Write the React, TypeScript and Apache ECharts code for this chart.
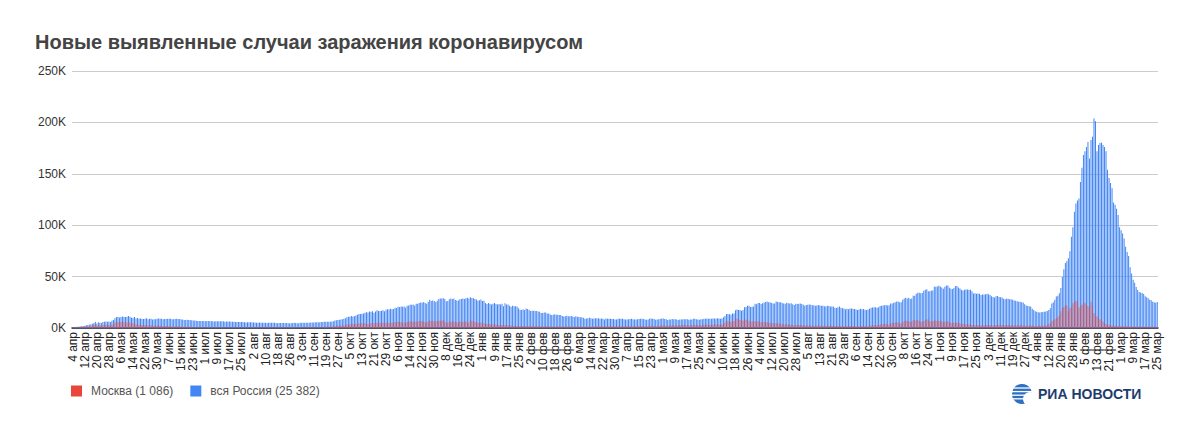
import { useEffect, useRef } from "react";
import * as echarts from "echarts";

// Daily new cases, thousands. Period: 4 Apr 2020 – 25 Mar 2022.
const ruApr2020 = [0.6, 0.7, 1.0, 1.2, 1.2, 1.5, 1.8, 1.7, 2.2, 2.6, 2.8, 3.4, 3.4, 4.1, 4.8, 6.1, 4.3, 5.6, 5.2, 4.8, 5.8, 6.0, 6.4, 6.2, 6.4, 5.8, 7.1];
const ruMay2020 = [7.9, 9.6, 10.6, 10.6, 10.1, 10.6, 11.2, 10.7, 10.8, 11.0, 11.7, 10.9, 10.0, 10.0, 10.6, 9.2, 9.7, 8.9, 9.3, 8.8, 8.8, 8.9, 9.4, 8.6, 8.9, 8.9, 8.3, 8.4, 8.6, 9.0, 9.3];
const ruJun2020 = [9.0, 8.9, 8.5, 8.8, 8.7, 8.9, 9.0, 9.0, 8.6, 8.4, 8.8, 9.0, 8.7, 8.8, 8.2, 8.2, 7.8, 7.8, 8.0, 7.9, 7.7, 7.6, 7.4, 7.2, 7.1, 6.8, 6.9, 6.8, 6.7, 6.7];
const ruJul2020 = [6.6, 6.8, 6.7, 6.6, 6.7, 6.6, 6.4, 6.6, 6.5, 6.6, 6.6, 6.6, 6.5, 6.2, 6.4, 6.4, 6.4, 6.2, 6.1, 6.1, 5.8, 5.9, 5.8, 5.8, 5.9, 5.8, 5.6, 5.4, 5.5, 5.5, 5.5];
const ruAug2020 = [5.5, 5.4, 5.4, 5.2, 5.2, 5.3, 5.2, 5.2, 5.2, 5.1, 4.9, 5.1, 5.1, 5.1, 5.1, 5.0, 4.8, 4.7, 4.8, 4.8, 4.8, 4.9, 4.9, 4.9, 4.7, 4.7, 4.7, 4.8, 5.0, 4.9, 4.7];
const ruSep2020 = [4.7, 5.0, 5.1, 5.2, 5.2, 5.2, 5.1, 5.2, 5.4, 5.4, 5.4, 5.5, 5.5, 5.5, 5.7, 5.8, 5.9, 6.1, 6.1, 6.2, 6.2, 6.2, 6.4, 6.6, 7.2, 7.5, 7.9, 8.1, 8.2, 8.5];
const ruOct2020 = [8.9, 9.4, 10.5, 10.9, 10.9, 11.6, 11.1, 11.5, 12.1, 12.8, 13.6, 13.6, 13.9, 14.2, 14.9, 15.2, 15.1, 16.0, 15.7, 16.3, 14.9, 16.0, 17.3, 16.5, 16.6, 16.7, 17.3, 16.2, 17.7, 18.3, 18.1];
const ruNov2020 = [18.7, 18.3, 18.6, 19.8, 19.4, 20.6, 20.5, 21.0, 20.6, 21.0, 19.9, 21.6, 22.0, 22.7, 22.6, 22.8, 21.8, 23.6, 23.6, 24.3, 24.8, 24.6, 25.2, 24.3, 23.7, 25.5, 27.5, 26.3, 26.7, 26.3];
const ruDec2020 = [25.3, 26.4, 28.1, 28.6, 28.8, 29.0, 28.1, 26.1, 26.2, 27.9, 28.6, 28.1, 28.6, 27.3, 26.7, 26.7, 27.9, 28.2, 28.6, 28.2, 28.9, 29.4, 28.8, 29.9, 29.3, 29.0, 28.3, 27.8, 26.5, 27.0, 27.7];
const ruJan2021 = [26.3, 26.5, 24.2, 23.4, 24.2, 23.5, 22.9, 23.7, 24.2, 23.3, 22.9, 23.3, 22.9, 23.7, 21.2, 24.1, 22.9, 22.9, 21.7, 20.6, 21.6, 21.2, 21.1, 20.9, 19.3, 17.7, 17.6, 18.2, 17.6, 19.0, 18.4];
const ruFeb2021 = [17.6, 16.6, 16.7, 16.7, 16.5, 16.6, 16.0, 15.9, 14.5, 14.5, 15.0, 15.0, 14.2, 14.2, 13.2, 12.7, 12.8, 13.4, 13.0, 13.0, 12.7, 12.6, 11.7, 11.2, 11.5, 11.8, 11.5, 11.4];
const ruMar2021 = [11.6, 11.2, 10.6, 11.4, 11.0, 10.6, 10.5, 10.4, 9.9, 9.1, 9.3, 9.4, 9.9, 9.4, 9.1, 9.3, 9.4, 9.3, 9.4, 9.1, 9.3, 8.9, 8.3, 9.2, 9.1, 9.1, 9.1, 8.8, 8.7, 8.2, 8.3];
const ruApr2021 = [9.0, 9.1, 9.0, 8.9, 8.6, 8.3, 8.3, 8.6, 8.7, 8.9, 8.6, 8.3, 8.2, 8.6, 8.8, 9.0, 9.0, 8.7, 8.3, 8.1, 8.2, 9.0, 9.3, 9.0, 8.7, 8.1, 8.2, 8.4, 8.7, 9.3];
const ruMay2021 = [9.3, 8.7, 8.4, 7.8, 8.2, 8.3, 8.7, 8.4, 8.4, 8.2, 7.8, 8.2, 8.2, 8.6, 8.6, 8.6, 8.4, 8.0, 8.2, 8.2, 8.9, 9.1, 8.6, 8.2, 8.1, 8.4, 8.6, 8.9, 9.1, 9.3, 8.9];
const ruJun2021 = [9.0, 9.1, 9.3, 9.3, 9.1, 9.5, 9.3, 8.9, 9.3, 10.4, 11.7, 13.5, 13.7, 13.4, 13.0, 14.1, 14.2, 17.3, 17.9, 17.6, 17.4, 16.7, 17.6, 20.2, 20.4, 21.7, 21.7, 20.5, 20.6, 21.0];
const ruJul2021 = [23.5, 23.2, 24.4, 24.4, 23.4, 24.0, 24.7, 25.3, 25.8, 25.1, 25.0, 24.4, 23.9, 23.8, 25.7, 25.3, 25.0, 25.1, 24.2, 23.8, 23.7, 24.5, 24.1, 23.9, 24.1, 23.2, 22.4, 23.7, 23.3, 23.6, 23.8];
const ruAug2021 = [23.3, 22.6, 21.7, 22.4, 22.6, 22.8, 22.7, 22.1, 22.2, 21.6, 21.9, 22.3, 21.9, 21.6, 21.6, 21.1, 20.9, 21.6, 21.4, 21.0, 21.0, 20.9, 19.6, 19.5, 20.2, 20.8, 19.7, 19.3, 18.9, 18.3, 18.8];
const ruSep2021 = [18.3, 18.9, 19.0, 18.8, 18.6, 17.9, 17.5, 18.1, 18.8, 18.2, 18.4, 17.8, 17.5, 17.9, 18.8, 19.6, 19.9, 20.2, 20.3, 19.7, 20.2, 21.4, 21.6, 21.9, 22.2, 22.4, 21.9, 22.2, 23.9, 23.9];
const ruOct2021 = [24.5, 25.1, 25.8, 25.8, 25.1, 25.1, 27.6, 28.7, 29.4, 28.6, 29.4, 28.2, 28.7, 31.3, 31.3, 33.2, 34.3, 34.3, 33.7, 34.1, 36.3, 37.1, 37.7, 35.7, 35.7, 36.4, 36.6, 40.1, 40.1, 40.3, 41.0];
const ruNov2021 = [40.4, 39.4, 38.1, 40.2, 41.3, 41.3, 39.2, 38.1, 37.9, 38.8, 40.8, 40.8, 39.3, 38.4, 37.1, 36.6, 37.2, 37.4, 37.4, 37.1, 37.2, 35.7, 33.6, 33.9, 33.4, 33.6, 33.2, 32.1, 32.6, 32.6];
const ruDec2021 = [32.9, 33.4, 32.9, 32.1, 30.8, 30.2, 29.6, 30.9, 31.1, 30.2, 29.9, 29.6, 28.5, 28.0, 28.5, 28.4, 28.0, 28.0, 27.4, 26.7, 26.4, 26.0, 25.6, 25.6, 25.0, 24.7, 23.0, 22.0, 21.5, 21.1, 21.0];
const ruJan2022 = [18.8, 17.5, 16.2, 15.8, 15.3, 15.1, 15.4, 15.6, 15.9, 16.0, 16.5, 17.5, 19.1, 23.8, 25.1, 27.5, 30.7, 31.3, 33.9, 38.9, 49.5, 57.2, 63.2, 65.1, 67.8, 74.7, 88.8, 98.0, 113.1, 121.2, 124.1];
const ruFeb2022 = [126, 142, 155.8, 168.2, 172, 176, 181, 165, 183, 186, 203.9, 201, 172, 178, 180, 180.5, 178, 176, 172, 154, 146, 141, 136, 122, 120, 116, 110, 98];
const ruMar2022 = [95, 92, 87, 79, 74, 70, 59, 53, 47, 44, 40, 37, 35, 34.5, 34, 33, 31, 30, 29, 27.5, 27, 25.5, 25, 24.5, 25.382];

const mskApr2020 = [0.4, 0.5, 0.7, 0.6, 0.8, 1.1, 1.3, 1.1, 1.4, 1.5, 1.4, 1.8, 1.4, 2.6, 3.1, 3.6, 2.2, 2.5, 2.6, 2.0, 3.0, 2.9, 2.9, 2.9, 3.1, 2.2, 3.1];
const mskMay2020 = [3.6, 5.4, 6.0, 5.8, 5.7, 5.9, 6.7, 5.8, 5.7, 5.4, 6.2, 5.4, 4.7, 4.7, 5.4, 3.5, 3.2, 3.2, 3.3, 3.0, 2.9, 3.0, 3.1, 2.5, 2.1, 2.8, 2.1, 2.1, 2.1, 2.3, 2.6];
const mskJun2020 = [2.3, 2.0, 1.8, 1.6, 2.0, 2.0, 2.0, 1.9, 1.2, 1.2, 1.5, 1.6, 1.8, 1.5, 1.2, 1.1, 0.9, 1.2, 1.1, 1.1, 1.0, 0.8, 0.8, 0.8, 0.7, 0.7, 0.7, 0.7, 0.7, 0.7];
const mskJul2020 = [0.6, 0.7, 0.7, 0.7, 0.7, 0.7, 0.6, 0.6, 0.6, 0.6, 0.6, 0.6, 0.6, 0.6, 0.6, 0.6, 0.6, 0.6, 0.6, 0.6, 0.6, 0.7, 0.6, 0.6, 0.6, 0.6, 0.6, 0.7, 0.7, 0.7, 0.7];
const mskAug2020 = [0.7, 0.7, 0.7, 0.7, 0.7, 0.7, 0.7, 0.7, 0.7, 0.7, 0.7, 0.7, 0.7, 0.7, 0.7, 0.7, 0.7, 0.7, 0.6, 0.7, 0.7, 0.7, 0.7, 0.6, 0.6, 0.6, 0.6, 0.6, 0.6, 0.6, 0.6];
const mskSep2020 = [0.6, 0.6, 0.6, 0.7, 0.7, 0.7, 0.7, 0.7, 0.7, 0.7, 0.7, 0.7, 0.7, 0.7, 0.7, 0.8, 0.9, 1.0, 1.1, 1.1, 1.1, 1.1, 1.3, 1.6, 1.8, 2.0, 2.2, 2.2, 2.3, 2.4];
const mskOct2020 = [2.4, 2.7, 3.5, 3.7, 3.5, 4.1, 3.9, 4.1, 4.1, 4.1, 4.6, 4.5, 4.6, 4.6, 4.6, 4.2, 4.0, 4.5, 4.5, 4.4, 4.8, 4.5, 5.0, 4.8, 5.2, 5.2, 5.2, 4.3, 5.0, 5.2, 5.2];
const mskNov2020 = [5.3, 5.2, 5.1, 5.9, 5.9, 6.1, 6.0, 5.7, 5.2, 5.3, 5.2, 5.9, 6.3, 6.3, 6.3, 6.0, 5.9, 6.4, 6.0, 6.9, 6.7, 6.5, 6.4, 5.5, 5.8, 6.4, 7.2, 6.8, 7.0, 6.4];
const mskDec2020 = [6.6, 6.8, 7.0, 7.0, 7.0, 8.0, 6.4, 5.2, 5.1, 6.5, 6.2, 6.3, 6.2, 6.1, 5.6, 5.1, 6.4, 6.2, 6.1, 6.1, 6.4, 5.8, 5.2, 8.2, 6.9, 6.3, 5.9, 5.8, 5.0, 4.8, 5.3];
const mskJan2021 = [5.0, 4.4, 4.2, 4.0, 4.0, 4.0, 3.7, 3.5, 3.5, 3.4, 3.2, 3.0, 3.1, 3.0, 3.0, 2.8, 2.6, 2.6, 2.5, 2.5, 2.3, 2.2, 2.1, 2.0, 2.0, 1.9, 1.9, 1.9, 1.8, 1.8, 1.8];
const mskFeb2021 = [1.7, 1.7, 1.6, 1.6, 1.7, 1.7, 1.6, 1.6, 1.5, 1.5, 1.5, 1.6, 1.6, 1.5, 1.4, 1.4, 1.4, 1.5, 1.5, 1.5, 1.4, 1.3, 1.3, 1.4, 1.4, 1.5, 1.5, 1.4];
const mskMar2021 = [1.4, 1.3, 1.3, 1.4, 1.5, 1.4, 1.3, 1.3, 1.2, 1.2, 1.3, 1.4, 1.5, 1.4, 1.3, 1.3, 1.5, 1.6, 1.7, 1.6, 1.6, 1.5, 1.5, 1.6, 1.7, 1.6, 1.7, 1.6, 1.5, 1.6, 1.7];
const mskApr2021 = [1.8, 1.8, 1.8, 1.7, 1.6, 1.6, 1.7, 1.7, 1.8, 1.8, 1.7, 1.6, 1.6, 1.7, 1.8, 1.9, 1.9, 1.8, 1.7, 1.7, 1.8, 2.1, 2.2, 2.1, 2.0, 1.8, 1.9, 2.0, 2.2, 2.4];
const mskMay2021 = [2.6, 2.4, 2.3, 2.3, 2.4, 2.4, 2.6, 2.6, 2.5, 2.5, 2.4, 2.6, 2.6, 2.8, 2.8, 2.7, 2.6, 2.4, 2.5, 2.6, 2.9, 3.0, 2.8, 2.6, 2.6, 2.7, 2.9, 3.1, 3.2, 3.3, 3.0];
const mskJun2021 = [2.9, 3.1, 3.4, 3.4, 3.3, 3.6, 3.4, 3.2, 3.5, 4.2, 5.2, 6.7, 6.9, 6.6, 5.8, 6.6, 6.7, 9.1, 9.1, 8.6, 7.9, 7.1, 7.4, 8.5, 8.0, 7.5, 7.0, 6.0, 6.5, 6.6];
const mskJul2021 = [6.6, 6.3, 6.6, 6.5, 5.6, 5.9, 5.9, 5.8, 5.6, 5.2, 5.0, 4.6, 4.6, 4.5, 4.7, 4.6, 4.3, 4.2, 3.9, 3.7, 3.4, 3.5, 3.4, 3.3, 3.1, 2.9, 2.6, 2.8, 2.8, 2.8, 2.9];
const mskAug2021 = [2.8, 2.6, 2.4, 2.5, 2.5, 2.5, 2.5, 2.3, 2.3, 2.1, 2.2, 2.4, 2.3, 2.3, 2.2, 2.0, 2.0, 2.2, 2.2, 2.1, 2.1, 2.1, 1.9, 1.8, 2.0, 2.1, 1.9, 1.9, 1.8, 1.6, 1.8];
const mskSep2021 = [1.8, 1.9, 2.0, 1.9, 1.9, 1.6, 1.5, 1.8, 2.0, 2.0, 2.0, 1.9, 1.7, 1.8, 2.1, 2.5, 2.7, 2.9, 2.9, 2.7, 2.9, 3.3, 3.6, 3.9, 4.0, 4.1, 3.5, 3.5, 4.7, 5.0];
const mskOct2021 = [5.1, 5.2, 5.3, 5.4, 4.4, 4.5, 5.5, 6.7, 7.2, 6.9, 6.7, 6.0, 6.2, 7.6, 7.5, 7.3, 7.7, 7.0, 6.1, 6.0, 6.6, 7.5, 8.3, 8.6, 6.8, 6.2, 6.7, 7.4, 7.1, 7.0, 7.0];
const mskNov2021 = [6.8, 6.5, 5.5, 6.1, 6.6, 6.3, 5.8, 5.1, 4.9, 5.0, 5.5, 5.2, 5.0, 4.7, 4.0, 3.9, 3.8, 3.7, 3.5, 3.3, 3.4, 3.0, 2.9, 3.0, 3.0, 2.9, 2.8, 2.7, 2.6, 2.7];
const mskDec2021 = [2.9, 3.0, 3.0, 3.0, 2.7, 2.5, 2.6, 2.9, 3.1, 3.1, 3.0, 2.9, 2.6, 2.6, 2.8, 2.8, 2.8, 2.7, 2.6, 2.5, 2.5, 2.6, 2.6, 2.6, 2.6, 2.4, 2.2, 2.2, 2.3, 2.4, 2.5];
const mskJan2022 = [2.5, 2.2, 2.0, 2.0, 2.1, 2.1, 2.2, 2.3, 2.4, 2.5, 3.0, 3.7, 4.5, 6.5, 7.5, 8.5, 9.5, 10.5, 12.5, 16.4, 19.5, 20.5, 22.1, 21.9, 16.0, 19.5, 21.0, 24.0, 25.0, 26.5, 25.5];
const mskFeb2022 = [20.0, 21.5, 22.5, 24.0, 24.5, 23.0, 21.5, 20.0, 25.5, 22.0, 14.5, 12.0, 11.5, 9.7, 8.5, 7.0, 6.0, 4.8, 4.0, 3.5, 3.0, 2.6, 2.5, 2.3, 2.1, 2.0, 1.9, 1.8];
const mskMar2022 = [1.8, 1.7, 1.7, 1.6, 1.6, 1.5, 1.5, 1.4, 1.4, 1.4, 1.3, 1.3, 1.3, 1.2, 1.2, 1.2, 1.2, 1.2, 1.1, 1.1, 1.1, 1.1, 1.1, 1.1, 1.086];

const russia = [
  ...ruApr2020, ...ruMay2020, ...ruJun2020, ...ruJul2020, ...ruAug2020, ...ruSep2020,
  ...ruOct2020, ...ruNov2020, ...ruDec2020, ...ruJan2021, ...ruFeb2021, ...ruMar2021,
  ...ruApr2021, ...ruMay2021, ...ruJun2021, ...ruJul2021, ...ruAug2021, ...ruSep2021,
  ...ruOct2021, ...ruNov2021, ...ruDec2021, ...ruJan2022, ...ruFeb2022, ...ruMar2022,
];
const moscow = [
  ...mskApr2020, ...mskMay2020, ...mskJun2020, ...mskJul2020, ...mskAug2020, ...mskSep2020,
  ...mskOct2020, ...mskNov2020, ...mskDec2020, ...mskJan2021, ...mskFeb2021, ...mskMar2021,
  ...mskApr2021, ...mskMay2021, ...mskJun2021, ...mskJul2021, ...mskAug2021, ...mskSep2021,
  ...mskOct2021, ...mskNov2021, ...mskDec2021, ...mskJan2022, ...mskFeb2022, ...mskMar2022,
];

const monthNames = ["янв", "фев", "мар", "апр", "мая", "июн", "июл", "авг", "сен", "окт", "ноя", "дек"];
const startDay = Date.UTC(2020, 3, 4);
const categories = russia.map((_, i) => {
  const d = new Date(startDay + i * 86400000);
  return `${d.getUTCDate()} ${monthNames[d.getUTCMonth()]}`;
});

const yTicks = [0, 50, 100, 150, 200, 250];
const titleText = "Новые выявленные случаи заражения коронавирусом";
const nameMoscow = "Москва (1 086)";
const nameRussia = "вся Россия (25 382)";

const FONT = '"Liberation Sans", Arial, sans-serif';

export default function App() {
  const ref = useRef<HTMLDivElement>(null);
  useEffect(() => {
    if (!ref.current) return;
    const chart = echarts.init(ref.current, undefined, { renderer: "svg" });
    chart.setOption({
      animation: false,
      backgroundColor: "#ffffff",
      textStyle: { fontFamily: FONT },
      title: {
        text: titleText,
        left: 35,
        top: 32,
        padding: 0,
        textStyle: { fontFamily: FONT, fontSize: 20, fontWeight: "bold", color: "#444444" },
      },
      grid: { left: 72, right: 38, top: 71, bottom: 108, containLabel: false },
      legend: {
        left: 71,
        top: 385,
        padding: 0,
        itemWidth: 11,
        itemHeight: 11,
        itemGap: 17,
        icon: "rect",
        textStyle: { fontFamily: FONT, fontSize: 12, color: "#555555", padding: [0, 0, 0, 4] },
        data: [
          { name: nameMoscow, itemStyle: { opacity: 1, color: "#e8453c" } },
          { name: nameRussia },
        ],
      },
      xAxis: {
        type: "category",
        data: categories,
        boundaryGap: true,
        axisTick: { show: false },
        axisLine: { lineStyle: { color: "#2b2b3a", width: 1.5 } },
        axisLabel: {
          interval: 7,
          rotate: 90,
          fontSize: 12,
          color: "#222222",
          margin: 4,
          fontFamily: FONT,
        },
      },
      yAxis: {
        type: "value",
        min: yTicks[0],
        max: yTicks[yTicks.length - 1],
        interval: 50,
        axisLine: { show: false },
        axisTick: { show: false },
        axisLabel: { formatter: "{value}K", fontSize: 12, color: "#333333", margin: 6, fontFamily: FONT },
        splitLine: { lineStyle: { color: "#cccccc", width: 1 } },
      },
      series: [
        {
          name: nameRussia,
          type: "bar",
          data: russia,
          itemStyle: { color: "#4285f4" },
          barCategoryGap: "35%",
          barGap: "-100%",
        },
        {
          name: nameMoscow,
          type: "bar",
          data: moscow,
          itemStyle: { color: "#e8453c", opacity: 0.62 },
          barGap: "-100%",
        },
      ],
      graphic: [
        {
          type: "group",
          x: 1012,
          y: 384,
          children: [
            { type: "circle", shape: { cx: 10, cy: 10, r: 10 }, style: { fill: "#2f6fbf" } },
            { type: "line", shape: { x1: -1, y1: 4, x2: 22, y2: 4 }, style: { stroke: "#ffffff", lineWidth: 1.3 } },
            { type: "line", shape: { x1: -1, y1: 7.6, x2: 22, y2: 7.6 }, style: { stroke: "#ffffff", lineWidth: 1.3 } },
            { type: "line", shape: { x1: -1, y1: 11.2, x2: 22, y2: 11.2 }, style: { stroke: "#ffffff", lineWidth: 1.3 } },
            { type: "line", shape: { x1: -1, y1: 14.8, x2: 22, y2: 14.8 }, style: { stroke: "#ffffff", lineWidth: 1.3 } },
            { type: "circle", shape: { cx: 18, cy: 15, r: 7 }, style: { fill: "#ffffff" } },
          ],
        },
        {
          type: "text",
          x: 1038,
          y: 387,
          style: { text: "РИА НОВОСТИ", font: `bold 14px ${FONT}`, fill: "#1d3c6e" },
        },
      ],
    });
    return () => chart.dispose();
  }, []);
  return (
    <div
      ref={ref}
      style={{ position: "absolute", left: 0, top: 0, width: 1196, height: 436, background: "#fff" }}
    />
  );
}
